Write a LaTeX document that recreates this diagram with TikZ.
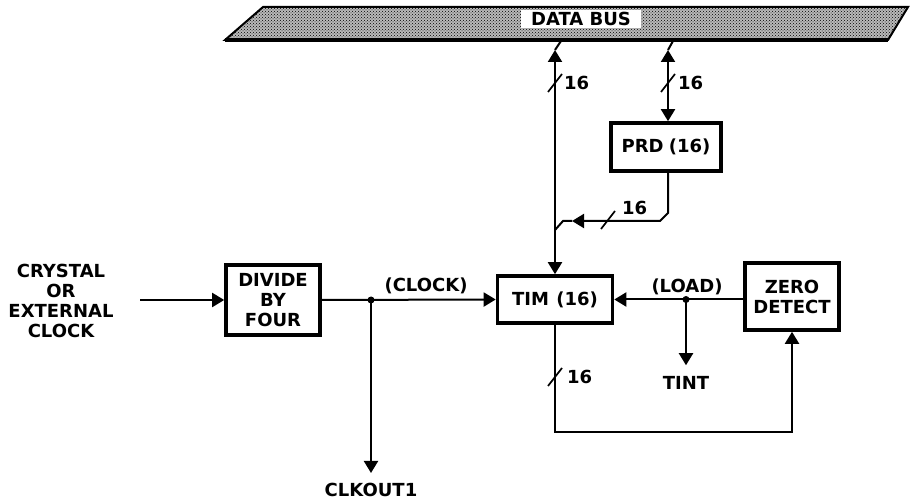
\documentclass[tikz,border=0pt]{standalone}
\usepackage{fontspec}
\setmainfont{DejaVu Sans}
\usetikzlibrary{arrows.meta}
\usetikzlibrary{positioning}
\usetikzlibrary{patterns}

\tikzset{
  blk/.style={draw, line width=3.6pt, align=center, inner sep=2pt},
  wire/.style={line width=2pt},
  arr/.style={wire, -{Triangle[length=12pt,width=14pt]}},
  dbl/.style={wire, {Triangle[length=12pt,width=14pt]}-{Triangle[length=12pt,width=14pt]}},
  lbl/.style={inner sep=0pt, align=center},
  tick/.style={line width=1.7pt},
}

\begin{document}
\begin{tikzpicture}[x=1pt, y=-1pt, font=\fontsize{18}{20}\selectfont\bfseries]
    \useasboundingbox (0,0) rectangle (910,502);

    % Data bus
    \fill[gray!55] (225,40) -- (263,7) -- (908,7) -- (888,40) -- cycle;
    \path[pattern=crosshatch dots] (225,40) -- (263,7) -- (908,7) -- (888,40) -- cycle;
    \draw[line width=2pt] (225,40) -- (263,7) -- (908,7) -- (888,40) -- cycle;
    \draw[line width=4.5pt] (225,40) -- (888,40);
    \node[fill=white, inner xsep=10pt, inner ysep=2pt] (bus) at (581,19) {DATA BUS};

    % Blocks
    \node[blk, minimum width=94pt, minimum height=70pt] (div) at (273,300) {DIVIDE\\BY\\FOUR};
    \node[blk, minimum width=115pt, minimum height=47pt] (tim) at (555,299.5) {TIM\hspace{0.4em}(16)};
    \node[blk, minimum width=110pt, minimum height=48pt] (prd) at (666,147) {PRD\hspace{0.3em}(16)};
    \node[blk, minimum width=94pt, minimum height=67pt] (zd) at (792,296.5) {ZERO\\DETECT};

    % Outside signals
    \node[lbl] (xtal) at (61,301) {CRYSTAL\\OR\\EXTERNAL\\CLOCK};
    \node[lbl] (clkout) at (371,490) {CLKOUT1};
    \node[lbl] (tint) at (686,383) {TINT};

    % Points on the wires
    \coordinate (in) at (140,300);
    \coordinate (ck) at (371,300);
    \coordinate (ld) at (686,299.5);
    \coordinate (t1) at (555,50);
    \coordinate (j1) at (561,41);
    \coordinate (t2) at (668,50);
    \coordinate (j2) at (673,41);
    \coordinate (k1) at (668,213);
    \coordinate (k2) at (660,221);
    \coordinate (k3) at (572,221);
    \coordinate (k4) at (563,221);
    \coordinate (k5) at (555,230);
    \coordinate (rt) at (792,432);

    % Clock path
    \draw[arr] (in) -- (div.west);
    \draw[arr] (div.east) -- (tim.west);
    \fill (ck) circle (3.5pt);
    \draw[arr, shorten >=10pt] (ck) -- (clkout);

    % Bus connections
    \draw[dbl] (t1) -- (tim.north);
    \draw[wire] (t1) -- (j1);
    \draw[dbl] (t2) -- (t2 |- prd.north);
    \draw[wire] (t2) -- (j2);

    % Period register into timer
    \draw[arr] (t2 |- prd.south) -- (k1) -- (k2) -- (k3);
    \draw[wire] (k3) -- (k4) -- (k5);

    % Timer to zero detect and reload
    \draw[arr] (tim.south) -- (tim.south |- rt) -- (rt) -- (zd.south);
    \draw[arr] (zd.west |- tim.east) -- (tim.east);
    \fill (ld) circle (3.5pt);
    \draw[arr, shorten >=11pt] (ld) -- (tint);

    % Width marks
    \foreach \p in {(555,83), (668,83), (608,220), (555,377)} {
      \draw[tick] \p ++(-7,9) -- ++(14,-18);
    }
    \node[lbl, anchor=west] (w1) at (564,83) {16};
    \node[lbl, anchor=west] (w2) at (678,83) {16};
    \node[lbl, anchor=west] (w3) at (622,208) {16};
    \node[lbl, anchor=west] (w4) at (567,377) {16};

    % Labels
    \node[lbl] (clklbl) at (426,286) {(CLOCK)};
    \node[lbl] (ldlbl) at (687,287) {(LOAD)};
\end{tikzpicture}
\end{document}
